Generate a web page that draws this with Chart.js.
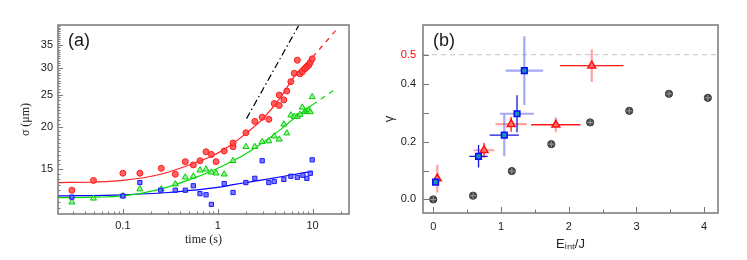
<!DOCTYPE html>
<html lang="en">

<head>
    <meta charset="UTF-8">
    <title>Sigma vs time and gamma vs E_int/J</title>
    <script src="https://cdn.jsdelivr.net/npm/chart.js"></script>
    <style>
        body {
            margin: 0;
            background: #fff;
        }

        .wrap {
            position: relative;
            width: 747px;
            height: 260px;
        }

        #chartA {
            position: absolute;
            left: 0;
            top: 0;
        }

        #chartB {
            position: absolute;
            left: 373px;
            top: 0;
        }
    </style>
</head>

<body>
    <div class="wrap">
        <canvas id="chartA" width="373" height="260"></canvas>
        <canvas id="chartB" width="374" height="260"></canvas>
    </div>

    <script>
        // ---- panel (a): sigma (um) vs time (s), log-log ----
        const redT = [0.029, 0.049, 0.1, 0.151, 0.254, 0.357, 0.455, 0.553, 0.65, 0.753, 0.857, 0.96, 1.17, 1.45, 1.45, 1.98, 2.46, 2.94, 3.46, 3.94, 4.45, 4.45, 4.98, 5.35, 5.9, 6.4, 6.9, 7.35, 7.8, 8.3, 8.7, 9.15, 9.45, 9.9];
        const redSigma = [13.0, 13.9, 14.6, 14.6, 15.1, 14.5, 15.8, 15.45, 15.9, 16.9, 16.6, 15.8, 17.0, 17.5, 17.95, 19.25, 20.8, 21.4, 21.1, 23.5, 23.2, 24.9, 24.1, 25.6, 27.3, 28.9, 31.6, 28.8, 29.2, 29.8, 30.2, 30.6, 31.1, 31.9];

        const greenT = [0.029, 0.049, 0.1, 0.151, 0.254, 0.357, 0.455, 0.553, 0.65, 0.753, 0.857, 0.96, 1.17, 1.45, 1.98, 2.46, 2.94, 3.46, 3.94, 4.45, 4.98, 5.35, 5.9, 6.4, 6.9, 7.35, 7.8, 8.3, 8.7, 9.15, 9.45, 9.9];
        const greenSigma = [11.98, 12.3, 12.5, 13.1, 13.1, 13.55, 14.2, 14.3, 14.9, 15.0, 14.7, 14.6, 14.5, 15.9, 17.5, 17.5, 18.1, 18.2, 18.8, 18.4, 20.4, 19.2, 21.7, 21.5, 21.5, 21.8, 22.9, 22.2, 22.3, 22.5, 22.2, 24.6];

        const blueT = [0.029, 0.1, 0.151, 0.25, 0.357, 0.455, 0.553, 0.65, 0.753, 0.857, 1.17, 1.45, 1.98, 2.46, 2.94, 3.46, 3.94, 4.98, 5.9, 6.9, 7.9, 8.7, 9.45, 9.9];
        const blueSigma = [12.4, 12.5, 13.7, 13.0, 13.0, 13.0, 13.4, 12.7, 12.6, 11.8, 13.6, 12.8, 13.7, 14.1, 15.9, 13.7, 13.8, 14.0, 14.3, 14.2, 14.4, 14.1, 14.6, 16.0];

        // fitted curves
        const redFitT = [0.0207, 0.05, 0.1, 0.25, 0.55, 0.9, 1.45, 2, 3, 4.5, 6.6, 10];
        const redFitSigma = [13.7, 13.75, 13.9, 14.5, 15.6, 16.5, 17.9, 19.2, 21.2, 24.3, 28.6, 32.3];
        const redExtT = [10, 18];
        const redExtSigma = [32.3, 39.0];

        const greenFitT = [0.0207, 0.05, 0.1, 0.25, 0.55, 0.9, 1.45, 2, 3, 4.5, 6.6, 10];
        const greenFitSigma = [12.35, 12.4, 12.5, 13.1, 14.1, 14.9, 15.9, 16.7, 18.0, 19.6, 21.4, 23.3];
        const greenExtT = [10, 18];
        const greenExtSigma = [23.3, 26.1];

        const blueFitT = [0.0207, 0.1, 0.3, 0.55, 1, 1.45, 2, 3, 5, 7, 10];
        const blueFitSigma = [12.5, 12.6, 12.8, 13.0, 13.25, 13.5, 13.7, 13.95, 14.3, 14.55, 14.8];

        const slopeT = [2.01, 7.18];
        const slopeSigma = [21.2, 40.2];

        const timeTicks = [0.1, 1, 10];
        const sigmaTicks = [15, 20, 25, 30, 35];

        // ---- panel (b): gamma vs E_int/J ----
        const greyE = [0, 0.588, 1.16, 1.743, 2.316, 2.894, 3.48, 4.054];
        const greyGamma = [0, 0.013, 0.098, 0.191, 0.266, 0.306, 0.365, 0.351];

        const blueE = [0.035, 0.669, 1.049, 1.237, 1.345];
        const blueGamma = [0.060, 0.149, 0.222, 0.296, 0.445];
        const blueEErr = [0, 0.135, 0.216, 0.252, 0.277];
        const blueGammaErr = [0, 0.039, 0.073, 0.064, 0.119];

        const redE = [0.06, 0.75, 1.15, 1.81, 2.34];
        const redGamma = [0.072, 0.170, 0.260, 0.258, 0.462];
        const redEErr = [0, 0.153, 0.23, 0.365, 0.469];
        const redGammaErr = [0.048, 0.026, 0.026, 0.026, 0.056];

        const eTicks = [0, 1, 2, 3, 4];
        const gammaTicks = [0, 0.2, 0.4, 0.5];
        const gammaLimit = 0.5;

        // which error bars are drawn faint (style only)
        const blueFaintX = [false, false, false, true, true];
        const blueFaintY = [false, false, true, false, true];
        const redFaintX = [false, true, true, false, false];
        const redFaintY = [true, false, false, true, true];

        const tickFont = { family: 'Liberation Sans, Arial, sans-serif', size: 11 };

        function pts(xs, ys) {
            return xs.map((x, i) => ({ x: x, y: ys[i] }));
        }

        // error bar segments separated by gaps
        function errBars(xs, ys, xe, ye, faintX, faintY, faint) {
            const out = [];
            xs.forEach((x, i) => {
                if (xe[i] > 0 && faintX[i] === faint) {
                    out.push({ x: x - xe[i], y: ys[i] }, { x: x + xe[i], y: ys[i] }, { x: x, y: null });
                }
                if (ye[i] > 0 && faintY[i] === faint) {
                    out.push({ x: x, y: ys[i] - ye[i] }, { x: x, y: ys[i] + ye[i] }, { x: x, y: null });
                }
            });
            return out;
        }

        function minorLog(lo, hi) {
            const out = [];
            for (let p = -2; p <= 1; p++) {
                for (let m = 2; m <= 9; m++) {
                    const v = m * Math.pow(10, p);
                    if (v > lo && v < hi) out.push(v);
                }
            }
            return out;
        }

        function steps(lo, hi, step) {
            const out = [];
            for (let v = lo; v <= hi + 1e-9; v += step) out.push(v);
            return out;
        }

        // frame, inward tick marks and panel letter
        const frameTicks = {
            id: 'frameTicks',
            afterDraw(chart, args, o) {
                const { ctx, chartArea: a, scales: { x, y } } = chart;
                ctx.save();
                ctx.strokeStyle = '#777';
                ctx.lineWidth = 1;
                ctx.beginPath();
                o.xMajor.forEach(v => { const p = Math.round(x.getPixelForValue(v)) + 0.5; ctx.moveTo(p, a.bottom); ctx.lineTo(p, a.bottom - o.major); });
                o.xMinor.forEach(v => { const p = Math.round(x.getPixelForValue(v)) + 0.5; ctx.moveTo(p, a.bottom); ctx.lineTo(p, a.bottom - o.minor); });
                o.yMajor.forEach(v => { const p = Math.round(y.getPixelForValue(v)) + 0.5; ctx.moveTo(a.left, p); ctx.lineTo(a.left + o.major, p); });
                o.yMinor.forEach(v => { const p = Math.round(y.getPixelForValue(v)) + 0.5; ctx.moveTo(a.left, p); ctx.lineTo(a.left + o.minor, p); });
                ctx.stroke();
                ctx.lineWidth = 1.6;
                ctx.strokeStyle = '#808080';
                ctx.strokeRect(a.left, a.top, a.right - a.left, a.bottom - a.top);
                ctx.fillStyle = '#1a1a1a';
                ctx.font = '18px Liberation Sans, Arial, sans-serif';
                ctx.textBaseline = 'middle';
                ctx.fillText(o.letter, a.left + o.letterDx, a.top + 16);
                ctx.restore();
            }
        };

        const chartA = new Chart(document.getElementById('chartA'), {
            type: 'scatter',
            plugins: [frameTicks],
            data: {
                datasets: [{
                    label: 'red',
                    data: pts(redT, redSigma),
                    pointStyle: 'circle',
                    pointRadius: 3,
                    borderWidth: 1,
                    borderColor: '#ff1a1a',
                    backgroundColor: 'rgba(255,70,70,0.85)'
                }, {
                    label: 'blue',
                    data: pts(blueT, blueSigma),
                    pointStyle: 'rect',
                    pointRadius: 3,
                    borderWidth: 1,
                    borderColor: '#1a1aff',
                    backgroundColor: 'rgba(90,90,255,0.8)'
                }, {
                    label: 'green',
                    data: pts(greenT, greenSigma),
                    pointStyle: 'triangle',
                    pointRadius: 3.5,
                    borderWidth: 1,
                    borderColor: '#00cc00',
                    backgroundColor: 'rgba(130,240,130,0.75)'
                }, {
                    label: 'red fit',
                    data: pts(redFitT, redFitSigma),
                    showLine: true, pointRadius: 0, borderWidth: 1.2,
                    borderColor: '#ff2020', cubicInterpolationMode: 'monotone', order: 5
                }, {
                    label: 'red ext',
                    data: pts(redExtT, redExtSigma),
                    showLine: true, pointRadius: 0, borderWidth: 1.2, borderDash: [5, 5],
                    borderColor: '#ff2020', order: 5
                }, {
                    label: 'green fit',
                    data: pts(greenFitT, greenFitSigma),
                    showLine: true, pointRadius: 0, borderWidth: 1.2,
                    borderColor: '#00dd00', cubicInterpolationMode: 'monotone', order: 5
                }, {
                    label: 'green ext',
                    data: pts(greenExtT, greenExtSigma),
                    showLine: true, pointRadius: 0, borderWidth: 1.2, borderDash: [5, 5],
                    borderColor: '#00dd00', order: 5
                }, {
                    label: 'blue fit',
                    data: pts(blueFitT, blueFitSigma),
                    showLine: true, pointRadius: 0, borderWidth: 1.2,
                    borderColor: '#0000ff', cubicInterpolationMode: 'monotone', order: 5
                }, {
                    label: 't^0.5',
                    data: pts(slopeT, slopeSigma),
                    showLine: true, pointRadius: 0, borderWidth: 1.2, borderDash: [7, 3, 1.5, 3],
                    borderColor: '#000', order: 5
                }]
            },
            options: {
                responsive: false,
                animation: false,
                layout: { padding: { left: 0, top: 25, right: 24, bottom: 0 } },
                plugins: {
                    legend: { display: false },
                    tooltip: { enabled: false },
                    frameTicks: {
                        xMajor: timeTicks, xMinor: minorLog(0.0207, 24.2),
                        yMajor: sigmaTicks, yMinor: steps(11.5, 40, 0.5),
                        major: 5, minor: 2.5, letter: '(a)', letterDx: 10
                    }
                },
                scales: {
                    x: {
                        type: 'logarithmic',
                        min: 0.0207,
                        max: 24.2,
                        grid: { display: false, drawTicks: false },
                        border: { display: false },
                        afterBuildTicks: s => { s.ticks = timeTicks.map(v => ({ value: v })); },
                        afterFit: s => { s.height = 46; },
                        ticks: {
                            font: tickFont, color: '#222', padding: 5, maxRotation: 0, autoSkip: false,
                            callback: v => String(v)
                        },
                        title: {
                            display: true, text: 'time (s)', color: '#222',
                            font: { family: 'Liberation Serif, Times New Roman, serif', size: 12 },
                            padding: { top: 0, bottom: 13 }
                        }
                    },
                    y: {
                        type: 'logarithmic',
                        min: 11.05,
                        max: 40.2,
                        grid: { display: false, drawTicks: false },
                        border: { display: false },
                        afterBuildTicks: s => { s.ticks = sigmaTicks.map(v => ({ value: v })); },
                        afterFit: s => { s.width = 58; },
                        ticks: {
                            font: tickFont, color: '#222', padding: 5, autoSkip: false,
                            callback: v => String(v)
                        },
                        title: {
                            display: true, text: 'σ (μm)', color: '#222',
                            font: { family: 'Liberation Serif, Times New Roman, serif', size: 12 },
                            padding: { top: 19, bottom: 0 }
                        }
                    }
                }
            }
        });

        const chartB = new Chart(document.getElementById('chartB'), {
            type: 'scatter',
            plugins: [frameTicks],
            data: {
                datasets: [{
                    label: 'blue',
                    data: pts(blueE, blueGamma),
                    pointStyle: 'rect', pointRadius: 4, borderWidth: 1.5,
                    borderColor: '#0a0aff', backgroundColor: '#1e8fb0', order: 1
                }, {
                    label: 'red',
                    data: pts(redE, redGamma),
                    pointStyle: 'triangle', pointRadius: 4.5, borderWidth: 1.5,
                    borderColor: '#ff1010', backgroundColor: 'rgba(255,120,120,0.85)', order: 2
                }, {
                    label: 'grey cross',
                    data: pts(greyE, greyGamma),
                    pointStyle: 'cross', pointRadius: 3, borderWidth: 1,
                    borderColor: '#9a9a9a', backgroundColor: '#9a9a9a', order: 3
                }, {
                    label: 'grey',
                    data: pts(greyE, greyGamma),
                    pointStyle: 'circle', pointRadius: 3.6, borderWidth: 1,
                    borderColor: '#3a3a3a', backgroundColor: '#4a4a4a', order: 4
                }, {
                    label: 'blue err',
                    data: errBars(blueE, blueGamma, blueEErr, blueGammaErr, blueFaintX, blueFaintY, false),
                    showLine: true, spanGaps: false, pointRadius: 0, borderWidth: 1.3,
                    borderColor: '#1414d8', order: 6
                }, {
                    label: 'blue err faint',
                    data: errBars(blueE, blueGamma, blueEErr, blueGammaErr, blueFaintX, blueFaintY, true),
                    showLine: true, spanGaps: false, pointRadius: 0, borderWidth: 2.2,
                    borderColor: 'rgba(90,100,240,0.55)', order: 7
                }, {
                    label: 'red err',
                    data: errBars(redE, redGamma, redEErr, redGammaErr, redFaintX, redFaintY, false),
                    showLine: true, spanGaps: false, pointRadius: 0, borderWidth: 1.3,
                    borderColor: '#ff1a1a', order: 6
                }, {
                    label: 'red err faint',
                    data: errBars(redE, redGamma, redEErr, redGammaErr, redFaintX, redFaintY, true),
                    showLine: true, spanGaps: false, pointRadius: 0, borderWidth: 2.2,
                    borderColor: 'rgba(255,70,70,0.5)', order: 7
                }, {
                    label: 'limit',
                    data: [{ x: -0.151, y: gammaLimit }, { x: 4.204, y: gammaLimit }],
                    showLine: true, pointRadius: 0, borderWidth: 1, borderDash: [5, 4],
                    borderColor: '#c4c4c4', order: 8
                }]
            },
            options: {
                responsive: false,
                animation: false,
                layout: { padding: { left: 0, top: 25, right: 29, bottom: 0 } },
                plugins: {
                    legend: { display: false },
                    tooltip: { enabled: false },
                    frameTicks: {
                        xMajor: eTicks, xMinor: [0.5, 1.5, 2.5, 3.5],
                        yMajor: [0, 0.1, 0.2, 0.3, 0.4, 0.5], yMinor: [],
                        major: 6, minor: 3.5, letter: '(b)', letterDx: 10
                    }
                },
                scales: {
                    x: {
                        type: 'linear',
                        min: -0.151,
                        max: 4.204,
                        grid: { display: false, drawTicks: false },
                        border: { display: false },
                        afterBuildTicks: s => { s.ticks = eTicks.map(v => ({ value: v })); },
                        afterFit: s => { s.height = 47; },
                        ticks: { font: tickFont, color: '#222', padding: 7, maxRotation: 0, autoSkip: false },
                        title: {
                            display: true, text: 'Eᵢₙₜ/J', color: '#222',
                            font: { family: 'Liberation Sans, Arial, sans-serif', size: 13 },
                            padding: { top: 0, bottom: 8 }
                        }
                    },
                    y: {
                        type: 'linear',
                        min: -0.0468,
                        max: 0.6026,
                        grid: { display: false, drawTicks: false },
                        border: { display: false },
                        afterBuildTicks: s => { s.ticks = gammaTicks.map(v => ({ value: v })); },
                        afterFit: s => { s.width = 50; },
                        ticks: {
                            font: tickFont, padding: 7, autoSkip: false,
                            color: c => c.tick && c.tick.value === gammaLimit ? '#ff0000' : '#222',
                            callback: v => v.toFixed(1)
                        },
                        title: {
                            display: true, text: 'γ', color: '#222',
                            font: { family: 'Liberation Sans, Arial, sans-serif', size: 13 },
                            padding: { top: 9, bottom: 0 }
                        }
                    }
                }
            }
        });
    </script>

</body>

</html>
